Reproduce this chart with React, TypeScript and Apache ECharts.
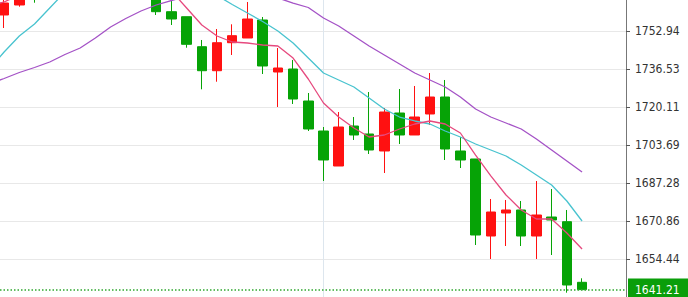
import React, { useEffect, useRef } from "react";
import * as echarts from "echarts";

// Candles (index 0..38). Candles 3-9 sit above the visible area (estimated).
const opens = [
  1759.85, 1764.17, 1772.0, 1768.2, 1775.0, 1780.4, 1777.6, 1784.9, 1781.7, 1786.2,
  1776.5, 1761.28, 1759.11, 1746.15, 1735.78, 1747.88, 1749.91, 1757.69, 1735.22, 1736.52,
  1722.69, 1709.73, 1694.61, 1711.89, 1708.44, 1701.1, 1717.51, 1708.01, 1717.08, 1724.42,
  1701.1, 1697.64, 1664.37, 1674.31, 1675.61, 1664.37, 1672.58, 1670.55, 1644.37,
];
const closes = [
  1765.03, 1768.8, 1768.2, 1775.0, 1780.4, 1777.6, 1784.9, 1781.7, 1786.2, 1776.5,
  1761.28, 1758.12, 1747.19, 1735.78, 1747.88, 1750.91, 1758.12, 1737.82, 1736.95, 1723.56,
  1710.6, 1697.21, 1711.46, 1708.01, 1701.53, 1717.94, 1708.01, 1715.78, 1724.42, 1701.96,
  1697.21, 1664.8, 1674.74, 1675.61, 1664.37, 1673.44, 1671.29, 1643.2, 1641.21,
];
const lows = [
  1754.23, 1763.44, 1765.16, 1767.1, 1773.2, 1775.1, 1776.3, 1779.0, 1780.1, 1773.8,
  1759.85, 1755.53, 1745.72, 1727.75, 1731.03, 1742.57, 1749.91, 1734.36, 1720.1, 1721.4,
  1709.73, 1688.13, 1694.61, 1705.85, 1699.8, 1691.59, 1704.12, 1708.01, 1712.33, 1697.21,
  1693.75, 1660.48, 1654.44, 1660.05, 1660.05, 1654.44, 1656.16, 1639.88, 1641.21,
];
const highs = [
  1767.5, 1770.5, 1774.0, 1777.0, 1783.0, 1784.2, 1788.0, 1787.3, 1789.4, 1788.1,
  1777.9, 1767.0, 1759.11, 1749.05, 1753.8, 1755.83, 1765.47, 1758.99, 1745.59, 1740.41,
  1726.15, 1711.46, 1717.94, 1715.78, 1726.58, 1719.67, 1727.88, 1729.18, 1734.79, 1731.77,
  1707.14, 1697.64, 1680.36, 1679.93, 1679.49, 1688.13, 1684.68, 1675.61, 1646.1,
];

// Moving averages, starting one bar before the first candle (index -1 .. 38)
const maStart = -1;
const maFast = [
  1763.74, 1765.47, 1768.49, 1772.38, 1776.7, 1780.15, 1782.75, 1783.61, 1783.61, 1782.31,
  1779.29, 1774.97, 1770.22, 1762.87, 1755.53, 1750.78, 1748.19, 1747.75, 1746.89, 1746.46,
  1741.27, 1732.2, 1721.83, 1715.79, 1711.03, 1707.14, 1708.01, 1710.6, 1712.76, 1714.06,
  1712.76, 1708.87, 1699.36, 1690.31, 1682.09, 1675.61, 1671.72, 1671.72, 1665.67, 1658.75,
];
const maMid = [
  1736.09, 1743.86, 1750.78, 1755.96, 1762.87, 1769.79, 1774.97, 1779.29, 1781.88, 1783.61,
  1783.61, 1781.88, 1778.43, 1774.97, 1771.51, 1768.27, 1764.39, 1760.71, 1757.04, 1752.94,
  1747.75, 1741.27, 1734.79, 1731.77, 1728.74, 1723.99, 1719.24, 1715.78, 1714.06, 1712.76,
  1709.73, 1707.14, 1704.12, 1701.53, 1698.93, 1695.05, 1690.73, 1686.4, 1679.49, 1670.86,
];
const maSlow = [
  1730.04, 1732.42, 1735.01, 1737.17, 1739.54, 1742.78, 1745.59, 1749.91, 1754.66, 1758.34,
  1761.58, 1764.17, 1766.11, 1767.84, 1768.92, 1769.57, 1769.79, 1769.57, 1768.71, 1767.19,
  1765.03, 1763.09, 1758.55, 1755.1, 1750.78, 1746.46, 1742.57, 1738.68, 1734.79, 1731.77,
  1728.74, 1724.42, 1719.24, 1715.78, 1713.19, 1710.6, 1706.28, 1701.53, 1696.77, 1692.02,
];

const priceTicks = [1654.44, 1670.86, 1687.28, 1703.69, 1720.11, 1736.53, 1752.94];
const lastPrice = 1641.21;
const separatorBar = 21;

const FONT = "'DejaVu Sans Condensed', 'Liberation Sans', sans-serif";

export default function App() {
  const ref = useRef<HTMLDivElement>(null);

  useEffect(() => {
    if (!ref.current) return;
    const chart = echarts.init(ref.current, undefined, { renderer: "svg" });

    const candleData = opens.map((o, i) => [i, o, closes[i], lows[i], highs[i]]);
    const toLine = (arr: number[]) => arr.map((v, k) => [k + maStart, v]);

    chart.setOption({
      animation: false,
      backgroundColor: "#ffffff",
      grid: { left: 0, right: 62, top: 0, bottom: 0 },
      xAxis: {
        type: "value",
        min: -0.27,
        max: 40.89,
        axisLine: { show: false, onZero: false },
        axisTick: { show: false, customValues: [separatorBar] },
        axisLabel: { show: false },
        splitLine: { show: true, lineStyle: { color: "#dde6ee", width: 1 } },
      },
      yAxis: {
        type: "value",
        position: "right",
        min: 1638.02,
        max: 1766.33,
        axisLine: { show: true, onZero: false, lineStyle: { color: "#777777", width: 1 } },
        axisTick: {
          show: true,
          length: 4,
          customValues: priceTicks,
          lineStyle: { color: "#555555" },
        },
        axisLabel: {
          show: true,
          customValues: priceTicks,
          formatter: (v: number) => v.toFixed(2),
          color: "#333333",
          fontSize: 12,
          fontFamily: FONT,
          margin: 9,
        },
        splitLine: { show: true, lineStyle: { color: "#e8e8e8", width: 1 } },
      },
      series: [
        {
          type: "candlestick",
          data: candleData,
          barWidth: 10,
          itemStyle: {
            color: "#ff1111",
            color0: "#06a306",
            borderColor: "#ff1111",
            borderColor0: "#06a306",
            borderWidth: 1,
          },
          markLine: {
            silent: true,
            symbol: ["none", "none"],
            animation: false,
            data: [{ yAxis: lastPrice }],
            lineStyle: { color: "#2fa82f", type: [1.5, 2], width: 1.5 },
            label: {
              show: true,
              position: "end",
              distance: 2,
              formatter: () => lastPrice.toFixed(2),
              color: "#ffffff",
              backgroundColor: "#0a9e0a",
              padding: [5, 12, 5, 7],
              fontSize: 12,
              fontFamily: FONT,
            },
          },
        },
        {
          type: "line",
          data: toLine(maSlow),
          symbol: "none",
          lineStyle: { color: "#a452c6", width: 1.3 },
        },
        {
          type: "line",
          data: toLine(maMid),
          symbol: "none",
          lineStyle: { color: "#48c3cf", width: 1.3 },
        },
        {
          type: "line",
          data: toLine(maFast),
          symbol: "none",
          lineStyle: { color: "#e6497e", width: 1.3 },
        },
      ],
    });

    return () => chart.dispose();
  }, []);

  return (
    <div
      ref={ref}
      style={{ position: "fixed", left: 0, top: 0, width: 688, height: 297, background: "#fff" }}
    />
  );
}
